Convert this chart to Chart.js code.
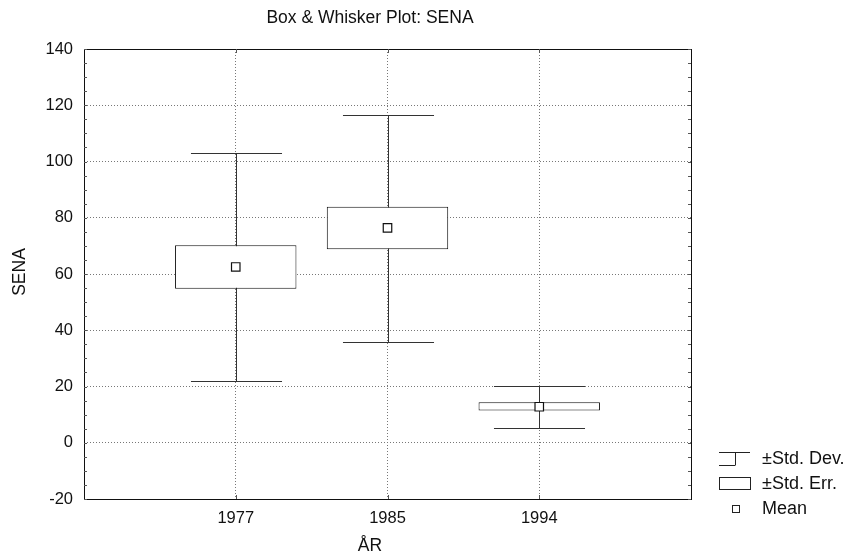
<!DOCTYPE html>
<html>
<head>
<meta charset="utf-8">
<title>Box & Whisker Plot: SENA</title>
<script src="https://cdn.jsdelivr.net/npm/chart.js@4.4.1/dist/chart.umd.min.js"></script>
<style>
  html, body { margin: 0; padding: 0; background: #fff; }
  #wrap { width: 848px; height: 558px; }
</style>
</head>
<body>
<div id="wrap"><canvas id="boxChart" width="848" height="558"></canvas></div>
<script>
// SENA by year: mean, ±standard error box, ±standard deviation whiskers
const years = ['1977', '1985', '1994'];
const means = [62.5, 76.4, 12.8];
const seLow = [54.8, 68.8, 11.5];
const seHigh = [70.2, 83.9, 14.4];
const sdLow = [22.0, 35.9, 5.4];
const sdHigh = [103.1, 116.6, 20.3];
const yTickMin = -20;
const yTickMax = 140;
const yTickStep = 20;

const FONT = '"Liberation Sans", Arial, sans-serif';
Chart.defaults.font.family = FONT;
Chart.defaults.color = '#111';

const boxData = years.map((y, i) => ({ x: i + 1, y: [seLow[i], seHigh[i]] }));
const meanData = years.map((y, i) => ({ x: i + 1, y: means[i] }));

function line(ctx, x1, y1, x2, y2) {
    ctx.beginPath();
    ctx.moveTo(x1, y1);
    ctx.lineTo(x2, y2);
    ctx.stroke();
}

const boxPlotExtras = {
    id: 'boxPlotExtras',
    beforeDatasetsDraw(chart) {
        // whiskers go under the white boxes
        const { ctx, scales: { x, y } } = chart;
        const half = x.getPixelForValue(1.3) - x.getPixelForValue(1);
        ctx.save();
        ctx.strokeStyle = '#333';
        ctx.lineWidth = 1;
        years.forEach((yr, i) => {
            const px = Math.round(x.getPixelForValue(i + 1)) + 0.5;
            const top = Math.round(y.getPixelForValue(sdHigh[i])) + 0.5;
            const bot = Math.round(y.getPixelForValue(sdLow[i])) + 0.5;
            line(ctx, px, top, px, bot);
            line(ctx, px - half, top, px + half, top);
            line(ctx, px - half, bot, px + half, bot);
        });
        ctx.restore();
    },
    afterDraw(chart) {
        const { ctx, chartArea: a, scales: { x, y } } = chart;
        ctx.save();
        ctx.strokeStyle = '#111';
        ctx.lineWidth = 1;
        ctx.strokeRect(Math.round(a.left) + 0.5, Math.round(a.top) + 0.5,
            Math.round(a.right - a.left), Math.round(a.bottom - a.top));

        // inward tick marks on all four sides
        ctx.strokeStyle = '#555';
        for (let v = yTickMin; v <= yTickMax; v += 5) {
            const py = Math.round(y.getPixelForValue(v)) + 0.5;
            line(ctx, a.left, py, a.left + 3, py);
            line(ctx, a.right - 3, py, a.right, py);
        }
        years.forEach((yr, i) => {
            const px = Math.round(x.getPixelForValue(i + 1)) + 0.5;
            line(ctx, px, a.top, px, a.top + 4);
            line(ctx, px, a.bottom - 4, px, a.bottom);
        });

        // titles
        ctx.fillStyle = '#111';
        ctx.font = '17.5px ' + FONT;
        ctx.textAlign = 'center';
        ctx.textBaseline = 'middle';
        ctx.fillText('Box & Whisker Plot: SENA', 370, 18);
        ctx.fillText('ÅR', 370, 546);
        ctx.save();
        ctx.translate(20, 272);
        ctx.rotate(-Math.PI / 2);
        ctx.fillText('SENA', 0, 0);
        ctx.restore();

        // legend
        const lx = 719, lw = 31, tx = 762;
        ctx.font = '18px ' + FONT;
        ctx.textAlign = 'left';
        ctx.strokeStyle = '#222';
        let ry = 459;
        line(ctx, lx, ry - 6.5, lx + lw, ry - 6.5);
        line(ctx, lx + 16.5, ry - 6.5, lx + 16.5, ry + 6);
        line(ctx, lx, ry + 6.5, lx + 16.5, ry + 6.5);
        ctx.fillText('±Std. Dev.', tx, ry);
        ry = 484;
        ctx.strokeRect(lx + 0.5, ry - 6.5, lw, 12);
        ctx.fillText('±Std. Err.', tx, ry);
        ry = 509;
        ctx.strokeRect(lx + 13.5, ry - 3.5, 7, 7);
        ctx.fillText('Mean', tx, ry);
        ctx.restore();
    }
};

new Chart(document.getElementById('boxChart'), {
    type: 'bar',
    data: {
        datasets: [{
            label: '±Std. Err.',
            data: boxData,
            backgroundColor: '#fff',
            borderColor: '#111',
            borderWidth: 1,
            borderSkipped: false,
            categoryPercentage: 1.0,
            barPercentage: 0.8,
            order: 2
        }, {
            type: 'scatter',
            label: 'Mean',
            data: meanData,
            pointStyle: 'rect',
            pointRadius: 6,
            backgroundColor: '#fff',
            borderColor: '#111',
            borderWidth: 1.2,
            order: 1
        }]
    },
    options: {
        responsive: false,
        animation: false,
        layout: { padding: { top: 49, right: 157, left: 0, bottom: 0 } },
        plugins: {
            legend: { display: false },
            tooltip: { enabled: false },
            title: { display: false }
        },
        scales: {
            x: {
                type: 'linear',
                min: 0,
                max: years.length + 1,
                offset: false,
                afterFit: s => { s.height = 59; },
                border: { display: false, dash: [1, 2] },
                grid: {
                    offset: false,
                    drawTicks: false,
                    color: c => (c.tick && c.tick.value > 0 && c.tick.value <= years.length) ? '#777' : 'rgba(0,0,0,0)'
                },
                ticks: {
                    stepSize: 1,
                    autoSkip: false,
                    maxRotation: 0,
                    padding: 10,
                    font: { size: 16.5 },
                    callback: v => years[v - 1] || ''
                }
            },
            y: {
                min: yTickMin,
                max: yTickMax,
                afterFit: s => { s.width = 84; },
                border: { display: false, dash: [1, 2] },
                grid: {
                    drawTicks: false,
                    color: c => (c.tick && c.tick.value > yTickMin && c.tick.value < yTickMax) ? '#777' : 'rgba(0,0,0,0)'
                },
                ticks: {
                    stepSize: yTickStep,
                    padding: 11,
                    font: { size: 16.5 }
                }
            }
        }
    },
    plugins: [boxPlotExtras]
});
</script>
</body>
</html>
